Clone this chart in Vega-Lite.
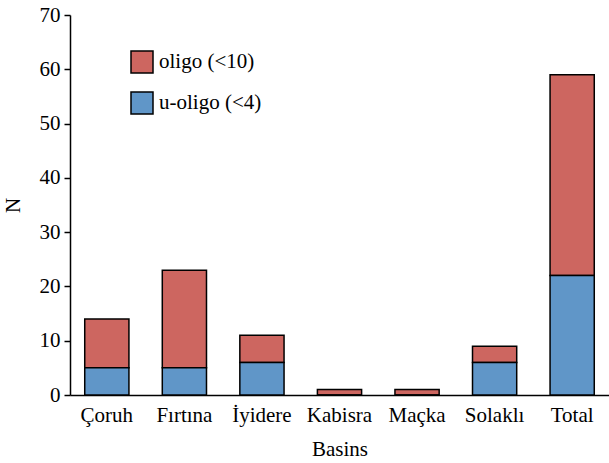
{
  "$schema": "https://vega.github.io/schema/vega-lite/v6.json",
  "autosize": "none",
  "padding": {"left": 70, "top": 15, "right": 0, "bottom": 68},
  "width": 539,
  "height": 380,
  "config": {
    "font": "Liberation Serif",
    "view": {"stroke": null},
    "axis": {"labelFont": "Liberation Serif", "titleFont": "Liberation Serif", "labelFontSize": 21, "titleFontSize": 21, "titleFontWeight": "normal", "labelColor": "#000", "titleColor": "#000", "domainColor": "#000", "tickColor": "#000", "domainWidth": 1.5, "tickWidth": 1.5, "grid": false},
    "legend": {"labelFont": "Liberation Serif", "labelFontSize": 21, "labelColor": "#000"}
  },
  "data": {
    "values": [
      {"basin": "Çoruh", "type": "oligo (<10)", "n": 9, "ord": 2},
      {"basin": "Çoruh", "type": "u-oligo (<4)", "n": 5, "ord": 1},
      {"basin": "Fırtına", "type": "oligo (<10)", "n": 18, "ord": 2},
      {"basin": "Fırtına", "type": "u-oligo (<4)", "n": 5, "ord": 1},
      {"basin": "İyidere", "type": "oligo (<10)", "n": 5, "ord": 2},
      {"basin": "İyidere", "type": "u-oligo (<4)", "n": 6, "ord": 1},
      {"basin": "Kabisra", "type": "oligo (<10)", "n": 1, "ord": 2},
      {"basin": "Kabisra", "type": "u-oligo (<4)", "n": 0, "ord": 1},
      {"basin": "Maçka", "type": "oligo (<10)", "n": 1, "ord": 2},
      {"basin": "Maçka", "type": "u-oligo (<4)", "n": 0, "ord": 1},
      {"basin": "Solaklı", "type": "oligo (<10)", "n": 3, "ord": 2},
      {"basin": "Solaklı", "type": "u-oligo (<4)", "n": 6, "ord": 1},
      {"basin": "Total", "type": "oligo (<10)", "n": 37, "ord": 2},
      {"basin": "Total", "type": "u-oligo (<4)", "n": 22, "ord": 1}
    ]
  },
  "mark": {"type": "bar", "stroke": "#000", "strokeWidth": 1.5},
  "encoding": {
    "x": {
      "field": "basin", "type": "nominal", "sort": null,
      "scale": {"paddingInner": 0.43, "paddingOuter": 0.19},
      "axis": {"title": "Basins", "labelAngle": 0, "ticks": false, "labelPadding": 9, "titlePadding": 13}
    },
    "y": {
      "field": "n", "type": "quantitative", "aggregate": "sum", "stack": "zero",
      "scale": {"domain": [0, 70], "nice": false},
      "axis": {"title": "N", "values": [0,10,20,30,40,50,60,70], "tickSize": 6, "labelPadding": 4, "titlePadding": 16}
    },
    "color": {
      "field": "type", "type": "nominal",
      "scale": {"domain": ["oligo (<10)", "u-oligo (<4)"], "range": ["#CD6660", "#6096C8"]},
      "legend": {"title": null, "orient": "none", "legendX": 60, "legendY": 35, "symbolType": "square", "symbolSize": 484, "symbolStrokeColor": "#000", "symbolStrokeWidth": 1.5, "symbolOpacity": 1, "rowPadding": 13, "labelOffset": 5}
    },
    "order": {"field": "ord", "type": "quantitative"}
  }
}
